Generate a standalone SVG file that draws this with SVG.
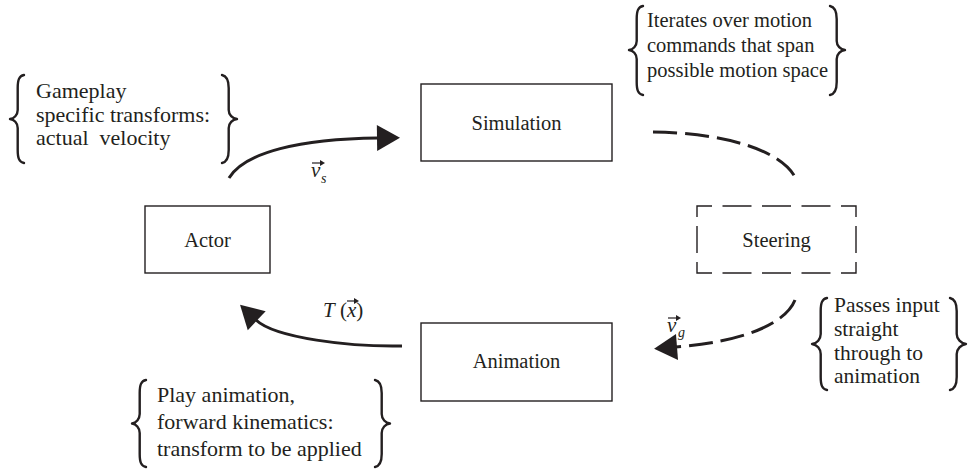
<svg xmlns="http://www.w3.org/2000/svg" width="970" height="470" viewBox="0 0 970 470">
<style>
.box{fill:none;stroke:#231f20;stroke-width:1.4}
.lbl{font-family:"Liberation Serif",serif;font-size:20.5px;fill:#231f20;text-anchor:middle}
.note{font-family:"Liberation Serif",serif;fill:#231f20}
.brace{fill:none;stroke:#231f20;stroke-width:2.4;stroke-linecap:round;stroke-linejoin:round}
.conn{fill:none;stroke:#231f20;stroke-width:3}
.dash{stroke-dasharray:24 8}
.math{font-family:"Liberation Serif",serif;font-style:italic;fill:#231f20}
.vec{fill:none;stroke:#231f20;stroke-width:1.2}
</style>
<defs>
<marker id="ah" markerUnits="userSpaceOnUse" markerWidth="26" markerHeight="28" refX="1" refY="13" orient="auto" overflow="visible">
<path d="M0,0 L23,13 L0,26 z" fill="#231f20"/>
</marker>
<marker id="vh" markerUnits="userSpaceOnUse" markerWidth="6" markerHeight="6" refX="0" refY="3" orient="auto" overflow="visible">
<path d="M0,0 L5,3 L0,6 z" fill="#231f20"/>
</marker>
</defs>

<g id="connectors">
<path class="conn" d="M229,178 C245,152 300,139 378,138" marker-end="url(#ah)"/>
<path class="conn dash" d="M653,132 C725,133 780,150 795,177"/>
<path class="conn dash" d="M795,300 C785,325 740,342 676,347" marker-end="url(#ah)"/>
<path class="conn" d="M402,346 C350,347 275,338 256,320" marker-end="url(#ah)"/>
<g id="label-vs">
<text class="math" x="311" y="177" font-size="21">v</text>
<text class="math" x="321" y="183" font-size="14">s</text>
<path class="vec" d="M312,163 L320,163" marker-end="url(#vh)"/>
</g>
<g id="label-vg">
<text class="math" x="667" y="332" font-size="21">v</text>
<text class="math" x="678" y="337" font-size="14">g</text>
<path class="vec" d="M668,318 L676,318" marker-end="url(#vh)"/>
</g>
<g id="label-Tx">
<text class="note" x="323" y="317" font-size="21"><tspan font-style="italic">T</tspan> (<tspan font-style="italic">x</tspan>)</text>
<path class="vec" d="M347,301 L354,301" marker-end="url(#vh)"/>
</g>
</g>

<g id="simulation">
<rect class="box" x="421" y="84" width="191" height="77"/>
<text class="lbl" x="516.5" y="130">Simulation</text>
</g>

<g id="actor">
<rect class="box" x="145" y="206" width="125" height="67"/>
<text class="lbl" x="207.5" y="247">Actor</text>
</g>

<g id="steering">
<path class="box" d="M697,217 V206 H712 M722.5,206 H751.5 M762,206 H791 M801.5,206 H830.5 M841,206 H856 V217 M856,226 V253 M856,262 V273 H841 M830.5,273 H801.5 M791,273 H762 M751.5,273 H722.5 M712,273 H697 V262 M697,253 V226"/>
<text class="lbl" x="776.5" y="247">Steering</text>
</g>

<g id="animation">
<rect class="box" x="421" y="323" width="191" height="78"/>
<text class="lbl" x="516.5" y="368">Animation</text>
</g>

<g id="note-gameplay">
<path class="brace" d="M24,75 C19,76 17.7,80 17.7,88 L17.7,110 C17.7,115 14,118.5 10,119 C14,119.5 17.7,123 17.7,128 L17.7,150 C17.7,158 19,162 24,163"/>
<path class="brace" d="M222,75 C227,76 228.7,80 228.7,88 L228.7,110 C228.7,115 232.5,118.5 237,119 C232.5,119.5 228.7,123 228.7,128 L228.7,150 C228.7,158 227,162 222,163"/>
<text class="note" font-size="22" x="36" y="98">Gameplay</text>
<text class="note" font-size="22" x="36" y="122">specific transforms:</text>
<text class="note" font-size="22" x="36" y="145" style="white-space:pre">actual  velocity</text>
</g>

<g id="note-iterates">
<path class="brace" d="M643,6 C638,7 636.7,11 636.7,19 L636.7,41 C636.7,46 633,49.5 629,50 C633,50.5 636.7,54 636.7,59 L636.7,82 C636.7,90 638,94 643,95"/>
<path class="brace" d="M830,6 C835,7 836.7,11 836.7,19 L836.7,41 C836.7,46 840.5,49.5 845,50 C840.5,50.5 836.7,54 836.7,59 L836.7,82 C836.7,90 835,94 830,95"/>
<text class="note" font-size="20.5" x="647" y="27">Iterates over motion</text>
<text class="note" font-size="20.5" x="647" y="52">commands that span</text>
<text class="note" font-size="20.5" x="647" y="77">possible motion space</text>
</g>

<g id="note-passes">
<path class="brace" d="M827,298 C822,299 820.7,303 820.7,311 L820.7,334 C820.7,339 817,343.5 812,344 C817,344.5 820.7,349 820.7,354 L820.7,377 C820.7,385 822,389 827,390"/>
<path class="brace" d="M950,298 C955,299 956.7,303 956.7,311 L956.7,334 C956.7,339 961,343.5 966,344 C961,344.5 956.7,349 956.7,354 L956.7,377 C956.7,385 955,389 950,390"/>
<text class="note" font-size="21.5" x="834" y="312">Passes input</text>
<text class="note" font-size="21.5" x="834" y="336">straight</text>
<text class="note" font-size="21.5" x="834" y="360">through to</text>
<text class="note" font-size="21.5" x="834" y="383">animation</text>
</g>

<g id="note-play">
<path class="brace" d="M146,380 C141,381 139.7,385 139.7,393 L139.7,414 C139.7,419 136,423 132,423.5 C136,424 139.7,428 139.7,433 L139.7,454 C139.7,462 141,466 146,467"/>
<path class="brace" d="M375,380 C380,381 381.7,385 381.7,393 L381.7,414 C381.7,419 385.5,423 390,423.5 C385.5,424 381.7,428 381.7,433 L381.7,454 C381.7,462 380,466 375,467"/>
<text class="note" font-size="22" x="157" y="402">Play animation,</text>
<text class="note" font-size="22" x="157" y="429">forward kinematics:</text>
<text class="note" font-size="22" x="157" y="456">transform to be applied</text>
</g>
</svg>
